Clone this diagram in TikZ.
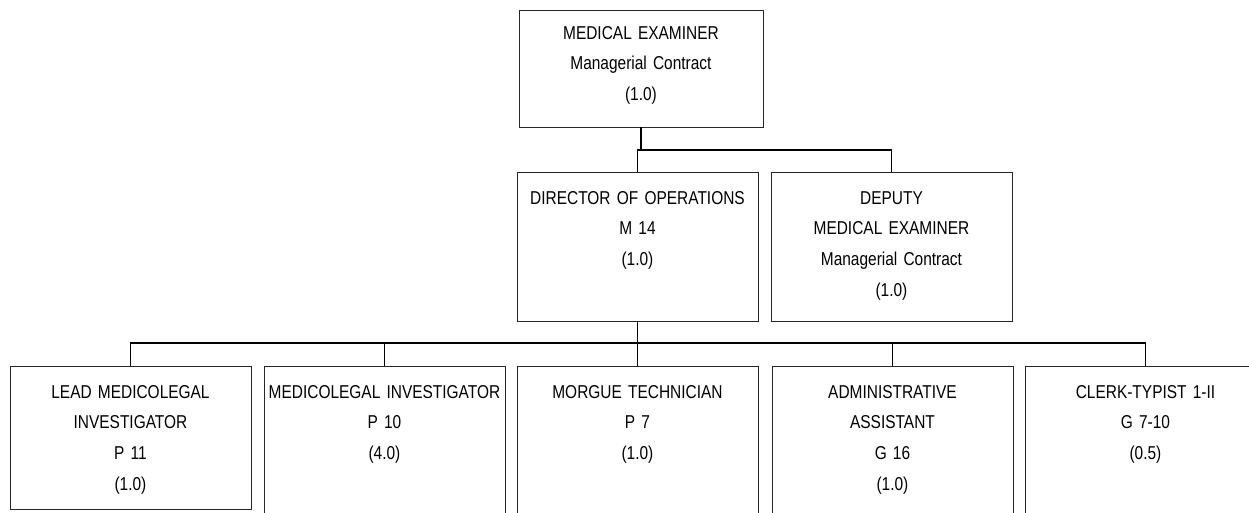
\documentclass[tikz,border=0pt]{standalone}
\usepackage{fontspec}
\newfontfamily\orgfont{Liberation Sans}[FakeStretch=0.83]
\usetikzlibrary{positioning, calc}

\begin{document}
\begin{tikzpicture}[
	x=0.02cm, y=-0.02cm,
	post/.style={draw=black!85, line width=0.5pt, anchor=north west, inner sep=0pt, outer sep=0pt, minimum width=4.82cm},
	title/.style={anchor=base, inner sep=0pt, text width=4.9cm, align=center,
		font=\orgfont\fontsize{10.6}{17.6}\selectfont},
	wire/.style={draw=black, line width=0.6pt}
	]
		\useasboundingbox (0,0) rectangle (1249,512);
		\clip (0,0) rectangle (1249,512);

		\node[post, minimum width=4.88cm, minimum height=2.34cm]	(me)	at	(519,10)	{};
		\node[title]	(meT)	at	($(me.north)+(0,29)$)	{MEDICAL EXAMINER\\Managerial Contract\\(1.0)};

		\node[post, minimum height=2.98cm]	(dir)	at	(517,172)	{};
		\node[title]	(dirT)	at	($(dir.north)+(0,32)$)	{DIRECTOR OF OPERATIONS\\M 14\\(1.0)};
		\node[post, minimum height=2.98cm]	(dep)	at	(771,172)	{};
		\node[title]	(depT)	at	($(dep.north)+(0,32)$)	{DEPUTY\\MEDICAL EXAMINER\\Managerial Contract\\(1.0)};

		\node[post, minimum height=2.86cm]	(lead)	at	(10,366)	{};
		\node[title]	(leadT)	at	($(lead.north)+(0,32)$)	{LEAD MEDICOLEGAL\\INVESTIGATOR\\P 11\\(1.0)};
		\node[post, minimum height=3.4cm]	(mli)	at	(264,366)	{};
		\node[title]	(mliT)	at	($(mli.north)+(0,32)$)	{MEDICOLEGAL INVESTIGATOR\\P 10\\(4.0)};
		\node[post, minimum height=3.4cm]	(morg)	at	(517,366)	{};
		\node[title]	(morgT)	at	($(morg.north)+(0,32)$)	{MORGUE TECHNICIAN\\P 7\\(1.0)};
		\node[post, minimum height=3.4cm]	(adm)	at	(772,366)	{};
		\node[title]	(admT)	at	($(adm.north)+(0,32)$)	{ADMINISTRATIVE\\ASSISTANT\\G 16\\(1.0)};
		\node[post, minimum height=3.4cm]	(clerk)	at	(1025,366)	{};
		\node[title]	(clerkT)	at	($(clerk.north)+(0,32)$)	{CLERK-TYPIST 1-II\\G 7-10\\(0.5)};

		\coordinate	(busA)	at	(0,150);
		\coordinate	(busB)	at	(0,343);

		\draw[wire] (me.south)	-- (me.south |- busA);
		\draw[wire] (dir.north)	|- (busA -| dep.north) -- (dep.north);
		\draw[wire] (dir.south)	-- (dir.south |- morg.north);
		\draw[wire] (lead.north)	|- (busB -| clerk.north) -- (clerk.north);
		\foreach \b in {mli, adm}
			\draw[wire] (\b.north) -- (\b.north |- busB);
	\end{tikzpicture}
\end{document}
